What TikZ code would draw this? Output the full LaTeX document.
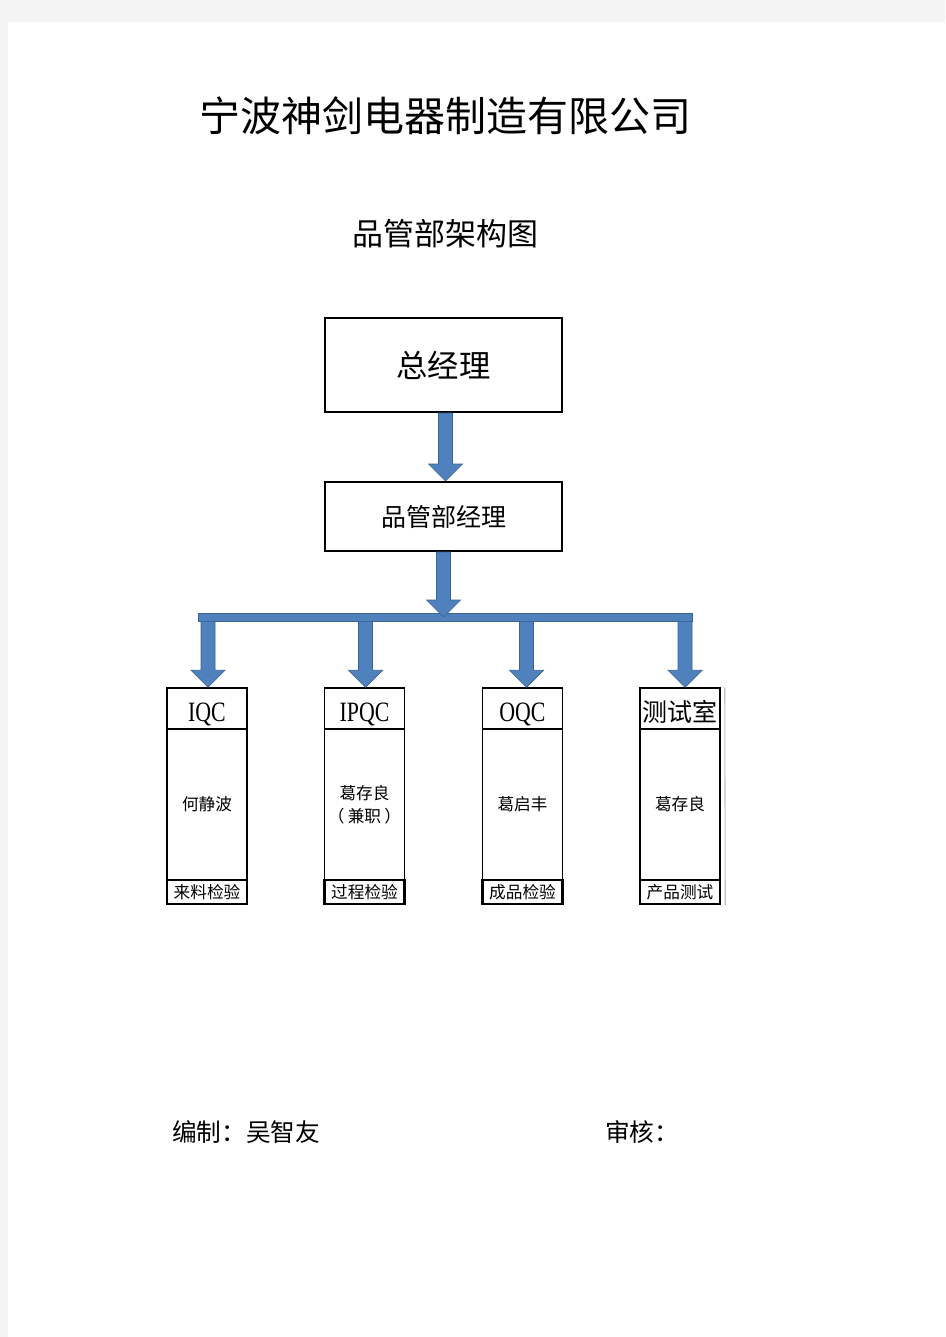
\documentclass[tikz,border=0pt]{standalone}
\usepackage{fontspec}
\setmainfont{Liberation Serif}
\newfontfamily\cjk{Noto Sans CJK SC}
\newfontfamily\latinhd[FakeStretch=0.78]{Liberation Serif}
\usetikzlibrary{calc}
\definecolor{arrblue}{RGB}{79,129,189}
\definecolor{arredge}{RGB}{58,98,148}
\definecolor{pagegray}{RGB}{243,243,243}
\newcommand\fsz[2]{\fontsize{#1pt}{#2pt}\selectfont}
\newcommand\barrow[2]{%
  \path[arrowshape] ($(#1)+(-7,0)$) -- ($(#1)+(7,0)$) -- ($(#2)+(7,-17)$) --
    ($(#2)+(17,-17)$) -- (#2) -- ($(#2)+(-17,-17)$) -- ($(#2)+(-7,-17)$) -- cycle;}
\begin{document}
\begin{tikzpicture}[x=0.75pt,y=-0.75pt,
  arrowshape/.style={fill=arrblue, draw=arredge, line width=0.5pt},
  mainbox/.style={draw, line width=1.5pt, inner sep=0pt, minimum width=177.75pt},
  colhead/.style={draw, line width=1.1pt, inner sep=0pt, minimum width=60pt, minimum height=30.75pt},
  colbody/.style={draw, line width=1.1pt, inner sep=0pt, minimum width=60pt, minimum height=113.25pt, font=\cjk\fsz{12.5}{17.5}, align=center},
  colfoot/.style={draw, line width=1.9pt, inner sep=0pt, minimum width=60pt, minimum height=18pt, font=\cjk\fsz{12.5}{15}},
  txt/.style={inner sep=0pt}]
\useasboundingbox (0,0) rectangle (945,1337);
\fill[pagegray] (0,0) rectangle (945,1337);
\fill[white] (8,22) rectangle (945,1337);

% titles
\node[txt, font=\cjk\fsz{30.75}{36}] (title) at (445,116) {宁波神剑电器制造有限公司};
\node[txt, font=\cjk\fsz{23.25}{28}] (subtitle) at (445,234) {品管部架构图};

% top boxes
\node[mainbox, minimum height=70.5pt, font=\cjk\fsz{23.5}{28}] (gm) at (443.5,365) {总经理};
\node[mainbox, minimum height=51.75pt, font=\cjk\fsz{18.75}{22}] (pm) at (443.5,516.5) {品管部经理};

% columns
\foreach \nm/\cx/\hd/\bd/\ft in {iqc/207/{\latinhd\fsz{21}{24}IQC}/{何静波}/{来料检验},
                                  ipqc/364.5/{\latinhd\fsz{21}{24}IPQC}/{葛存良\\（\hspace{0.2em}兼职\hspace{0.2em}）}/{过程检验},
                                  oqc/522.5/{\latinhd\fsz{21}{24}OQC}/{葛启丰}/{成品检验},
                                  test/680/{\cjk\fsz{18.75}{22}测试室}/{葛存良}/{产品测试}} {
  \node[colhead] (\nm h) at (\cx,708.5) {};
  \node[txt, anchor=base] (\nm l) at (\cx,721.5) {\hd};
  \node[colbody] (\nm b) at (\cx,804.5) {\bd};
  \node[colfoot] (\nm f) at (\cx,892) {\ft};
}
\draw[black!25, line width=0.8pt] ($(testh.north east)+(4,0)$) -- ($(testf.south east)+(4,0)$);

% bar
\node[arrowshape, inner sep=0pt, minimum width=370.5pt, minimum height=6pt] (bar) at (445,617) {};

% arrows
\coordinate (a1t) at ($(gm.south)+(2,0)$);
\coordinate (a1e) at (a1t |- pm.north);
\barrow{a1t}{a1e}
\coordinate (a2t) at (pm.south);
\coordinate (a2e) at (a2t |- bar.center);
\barrow{a2t}{a2e}

\foreach \nm/\dx in {iqc/1, ipqc/1, oqc/4, test/5} {
  \coordinate (\nm e) at ($(\nm h.north)+(\dx,0)$);
  \coordinate (\nm s) at (\nm e |- bar.south);
  \barrow{\nm s}{\nm e}
}

% signatures
\node[txt, anchor=west, font=\cjk\fsz{18.5}{22}] (author) at (172,1132) {编制：吴智友};
\node[txt, anchor=west, font=\cjk\fsz{18.5}{22}] (review) at (605,1132) {审核：};
\end{tikzpicture}
\end{document}
